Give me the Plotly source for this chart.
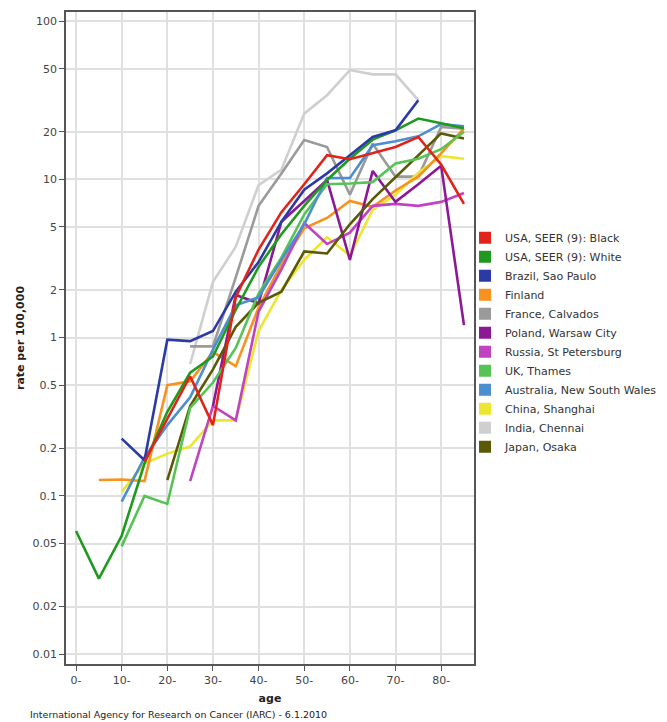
import plotly.graph_objects as go

ages = [0, 5, 10, 15, 20, 25, 30, 35, 40, 45, 50, 55, 60, 65, 70, 75, 80, 85]
N = None

usa_black = [N, N, N, 0.165, 0.31, 0.57, 0.28, 1.8, 3.6, 6.2, 9.3, 14.2, 13.4, 14.6, 16.0, 18.5, 12.4, 7.0]
usa_white = [0.060, 0.030, 0.056, 0.16, 0.34, 0.60, 0.76, 1.5, 2.8, 4.5, 6.8, 9.9, 13.5, 17.8, 20.4, 24.2, 22.6, 21.0]
brazil = [N, N, 0.23, 0.168, 0.97, 0.95, 1.1, 1.95, 3.0, 5.4, 8.6, 10.9, 14.2, 18.5, 20.4, 31.6, N, N]
finland = [N, 0.126, 0.127, 0.124, 0.50, 0.53, 0.81, 0.66, 1.55, 2.9, 4.9, 5.7, 7.3, 6.7, 8.5, 10.4, 14.6, 21.0]
france = [N, N, N, N, N, 0.88, 0.88, 2.4, 6.8, 10.9, 17.7, 16.0, 8.0, 16.8, 10.4, 10.4, 21.4, 20.9]
poland = [N, N, N, N, N, N, 0.37, 1.86, 1.65, 5.4, 7.3, 9.9, 3.1, 11.3, 7.2, 9.3, 12.2, 1.2]
russia = [N, N, N, N, N, 0.124, 0.37, 0.30, 1.46, 2.7, 5.3, 3.9, 4.6, 6.8, 7.0, 6.8, 7.2, 8.2]
uk = [N, N, 0.048, 0.10, 0.089, 0.36, 0.52, 0.86, 1.9, 3.2, 6.0, 9.3, 9.4, 9.6, 12.6, 13.5, 15.5, 20.0]
australia = [N, N, 0.092, 0.175, 0.28, 0.42, 0.84, 1.6, 1.8, 3.1, 5.2, 10.2, 10.2, 16.4, 17.4, 18.7, 22.3, 21.6]
china = [N, N, 0.106, 0.16, 0.185, 0.205, 0.30, 0.30, 1.1, 2.0, 3.1, 4.3, 3.3, 6.4, 8.0, 11.0, 14.0, 13.5]
india = [N, N, N, N, N, 0.68, 2.25, 3.75, 9.2, 11.5, 26.0, 34.0, 49.0, 46.0, 46.0, 31.6, N, N]
japan = [N, N, N, N, 0.126, 0.37, 0.63, 1.17, 1.66, 1.95, 3.5, 3.4, 5.2, 7.5, 10.3, 14.2, 19.5, 18.1]

series_names = ["USA, SEER (9): Black", "USA, SEER (9): White", "Brazil, Sao Paulo", "Finland",
                "France, Calvados", "Poland, Warsaw City", "Russia, St Petersburg", "UK, Thames",
                "Australia, New South Wales", "China, Shanghai", "India, Chennai", "Japan, Osaka"]
series_values = [usa_black, usa_white, brazil, finland, france, poland, russia, uk,
                 australia, china, india, japan]
colors = ["#e2231a", "#1f9a1f", "#2c3aa6", "#f7921e", "#9a9a9a", "#8c1896", "#c043c0",
          "#55c455", "#4b8fd0", "#ece631", "#cfcfcf", "#5a5a06"]

y_tickvals = [100, 50, 20, 10, 5, 2, 1, 0.5, 0.2, 0.1, 0.05, 0.02, 0.01]
y_ticktext = ["100", "50", "20", "10", "5", "2", "1", "0.5", "0.2", "0.1", "0.05", "0.02", "0.01"]
x_tickvals = [0, 10, 20, 30, 40, 50, 60, 70, 80]
x_ticktext = ["0-", "10-", "20-", "30-", "40-", "50-", "60-", "70-", "80-"]

fig = go.Figure()

# draw lines (lighter / background ones first)
draw_order = [10, 4, 9, 3, 6, 5, 11, 7, 8, 1, 2, 0]
for i in draw_order:
    fig.add_trace(go.Scatter(x=ages, y=series_values[i], mode="lines",
                             line=dict(color=colors[i], width=2.6),
                             connectgaps=False, showlegend=False, hoverinfo="skip"))

# legend entries with square swatches
for name, c in zip(series_names, colors):
    fig.add_trace(go.Scatter(x=[None], y=[None], mode="markers", name=name,
                             marker=dict(symbol="square", size=13, color=c)))

font_family = "DejaVu Sans"
fig.update_layout(
    width=667, height=722,
    margin=dict(l=66, r=193, t=12, b=58, autoexpand=False),
    paper_bgcolor="white", plot_bgcolor="white",
    font=dict(family=font_family, size=11, color="#333333"),
    legend=dict(x=0.978, xanchor="left", y=0.676, yanchor="top",
                font=dict(family=font_family, size=11, color="#333333"),
                itemsizing="constant", tracegroupgap=0, bgcolor="rgba(0,0,0,0)"),
    annotations=[
        dict(text="International Agency for Research on Cancer (IARC) - 6.1.2010",
             xref="paper", yref="paper", x=-0.093, y=-0.0767, xanchor="left", yanchor="middle",
             showarrow=False, font=dict(family=font_family, size=9.5, color="#222222")),
    ],
)

fig.update_xaxes(
    range=[-2.2, 87.2], tickvals=x_tickvals, ticktext=x_ticktext, automargin=False,
    showgrid=True, gridcolor="#e0e0e0", gridwidth=1.6, zeroline=False,
    showline=True, linecolor="#555555", linewidth=1.5, mirror=True,
    ticks="outside", ticklen=5, tickcolor="#555555",
    tickfont=dict(family=font_family, size=11, color="#444444"),
    title=dict(text="<b>age</b>", font=dict(family=font_family, size=11, color="#222222"), standoff=8),
)
fig.update_yaxes(
    type="log", range=[-2.062, 2.057], tickvals=y_tickvals, ticktext=y_ticktext, automargin=False,
    showgrid=True, gridcolor="#e0e0e0", gridwidth=1.6, zeroline=False,
    showline=True, linecolor="#555555", linewidth=1.5, mirror=True,
    ticks="outside", ticklen=5, tickcolor="#555555",
    tickfont=dict(family=font_family, size=11, color="#444444"),
    title=dict(text="<b>rate per 100,000</b>", font=dict(family=font_family, size=11, color="#222222"), standoff=6),
)

fig.write_html("out.html", config={"displayModeBar": False},
               post_script="document.body.style.margin='0';")
